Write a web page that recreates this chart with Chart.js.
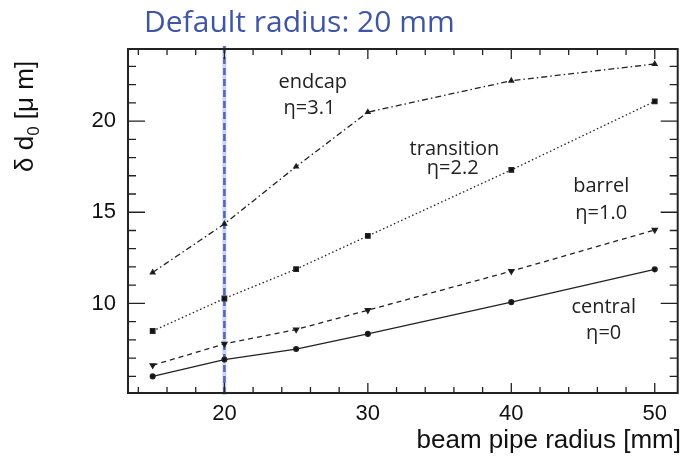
<!DOCTYPE html>
<html>
<head>
<meta charset="utf-8">
<script src="https://cdn.jsdelivr.net/npm/chart.js@4.4.1/dist/chart.umd.min.js"></script>
<style>
  html, body { margin: 0; padding: 0; background: #fff; }
</style>
</head>
<body>
<canvas id="chart" width="683" height="458"></canvas>
<script>
// beam pipe radius [mm]
const radius = [15, 20, 25, 30, 40, 50];
// impact parameter resolution [um] per region
const central = [6.0, 6.92, 7.5, 8.33, 10.07, 11.87];
const barrel = [6.61, 7.78, 8.57, 9.63, 11.77, 14.03];
const transition = [8.49, 10.27, 11.88, 13.7, 17.32, 21.08];
const endcap = [11.7, 14.36, 17.5, 20.49, 22.21, 23.13];

const xTicks = [20, 30, 40, 50];
const yTicks = [10, 15, 20];
const defaultRadius = 20;

// text labels next to the curves, placed in data units
const notes = [
    ['endcap', 26.16, 22.12], ['η=3.1', 25.93, 20.71],
    ['transition', 36.04, 18.46], ['η=2.2', 35.92, 17.42],
    ['barrel', 46.27, 16.41], ['η=1.0', 46.27, 14.95],
    ['central', 46.44, 9.81], ['η=0', 46.44, 8.34]
];

function points(values) {
    return radius.map((r, i) => ({ x: r, y: values[i] }));
}

// vertical "default radius" line, under the curves
const defaultLine = {
    id: 'defaultLine',
    beforeDatasetsDraw(chart) {
        const { ctx, scales: { x, y } } = chart;
        const px = x.getPixelForValue(defaultRadius);
        ctx.save();
        ctx.strokeStyle = 'rgba(140,160,220,0.45)';
        ctx.lineWidth = 4;
        ctx.beginPath();
        ctx.moveTo(px, y.top - 3);
        ctx.lineTo(px, y.bottom + 2);
        ctx.stroke();
        ctx.strokeStyle = '#4d66bb';
        ctx.lineWidth = 2.5;
        ctx.setLineDash([7, 4]);
        ctx.beginPath();
        ctx.moveTo(px, y.top - 3);
        ctx.lineTo(px, y.bottom + 2);
        ctx.stroke();
        ctx.restore();
    }
};

// frame with inward ticks, titles and curve labels
const frame = {
    id: 'frame',
    afterDraw(chart) {
        const { ctx, chartArea: a, scales: { x, y } } = chart;
        ctx.save();
        ctx.strokeStyle = '#222';
        ctx.lineWidth = 1.3;
        ctx.beginPath();
        for (let v = 14; v <= 50; v += 2) {
            const px = x.getPixelForValue(v);
            const len = xTicks.includes(v) ? 10 : 6;
            ctx.moveTo(px, a.bottom); ctx.lineTo(px, a.bottom - len);
            ctx.moveTo(px, a.top); ctx.lineTo(px, a.top + len);
        }
        for (let v = 6; v <= 23; v++) {
            const py = y.getPixelForValue(v);
            const len = yTicks.includes(v) ? 17 : 8;
            ctx.moveTo(a.left, py); ctx.lineTo(a.left + len, py);
            ctx.moveTo(a.right, py); ctx.lineTo(a.right - len, py);
        }
        ctx.stroke();

        ctx.lineWidth = 2;
        ctx.strokeRect(a.left, a.top, a.right - a.left, a.bottom - a.top);

        // curve labels
        ctx.fillStyle = '#222';
        ctx.font = '20px "Open Sans"';
        ctx.textAlign = 'center';
        ctx.textBaseline = 'middle';
        notes.forEach(([t, vx, vy]) => {
            ctx.fillText(t, x.getPixelForValue(vx), y.getPixelForValue(vy));
        });

        // title
        ctx.fillStyle = '#3f55a8';
        ctx.font = '30px "Open Sans"';
        ctx.textAlign = 'left';
        ctx.textBaseline = 'alphabetic';
        ctx.fillText('Default radius: 20 mm', 144, 32);

        // x axis title
        ctx.fillStyle = '#111';
        ctx.font = '26px "Liberation Sans"';
        ctx.textAlign = 'right';
        ctx.fillText('beam pipe radius [mm]', 681, 448);

        // y axis title with subscript
        ctx.translate(33, 172);
        ctx.rotate(-Math.PI / 2);
        ctx.textAlign = 'left';
        ctx.font = '26px "Liberation Sans"';
        let cx = 0;
        ctx.fillText('δ d', cx, 0);
        cx += ctx.measureText('δ d').width;
        ctx.font = '17px "Liberation Sans"';
        ctx.fillText('0', cx, 6);
        cx += ctx.measureText('0').width;
        ctx.font = '26px "Liberation Sans"';
        ctx.fillText(' [μ m]', cx, 0);
        ctx.restore();
    }
};

const lineBase = {
    borderColor: '#222',
    backgroundColor: '#111',
    borderWidth: 1.3,
    fill: false,
    tension: 0
};

new Chart(document.getElementById('chart'), {
    type: 'line',
    data: {
        datasets: [
            Object.assign({}, lineBase, {
                label: 'central', data: points(central),
                pointStyle: 'circle', pointRadius: 2.4
            }),
            Object.assign({}, lineBase, {
                label: 'barrel', data: points(barrel), borderDash: [5, 4],
                pointStyle: 'triangle', pointRotation: 180, pointRadius: 3
            }),
            Object.assign({}, lineBase, {
                label: 'transition', data: points(transition), borderDash: [1.5, 2.5],
                pointStyle: 'rect', pointRadius: 3.2
            }),
            Object.assign({}, lineBase, {
                label: 'endcap', data: points(endcap), borderDash: [6, 3, 1.5, 3],
                pointStyle: 'triangle', pointRadius: 2.6
            })
        ]
    },
    options: {
        responsive: false,
        devicePixelRatio: 1,
        animation: false,
        layout: { padding: { top: 49, right: 3, left: 0, bottom: 0 } },
        plugins: {
            legend: { display: false },
            tooltip: { enabled: false }
        },
        scales: {
            x: {
                type: 'linear',
                min: 13.28,
                max: 51.6,
                afterBuildTicks: s => { s.ticks = xTicks.map(v => ({ value: v })); },
                afterFit: s => { s.height = 65; },
                grid: { display: false, drawTicks: false },
                border: { display: false },
                ticks: {
                    color: '#111',
                    font: { family: 'Liberation Sans', size: 22 },
                    padding: 8,
                    maxRotation: 0,
                    autoSkip: false
                }
            },
            y: {
                type: 'linear',
                min: 5.09,
                max: 23.95,
                afterBuildTicks: s => { s.ticks = yTicks.map(v => ({ value: v })); },
                afterFit: s => { s.width = 128; },
                grid: { display: false, drawTicks: false },
                border: { display: false },
                ticks: {
                    color: '#111',
                    font: { family: 'Liberation Sans', size: 22 },
                    padding: 12
                }
            }
        }
    },
    plugins: [defaultLine, frame]
});
</script>
</body>
</html>
